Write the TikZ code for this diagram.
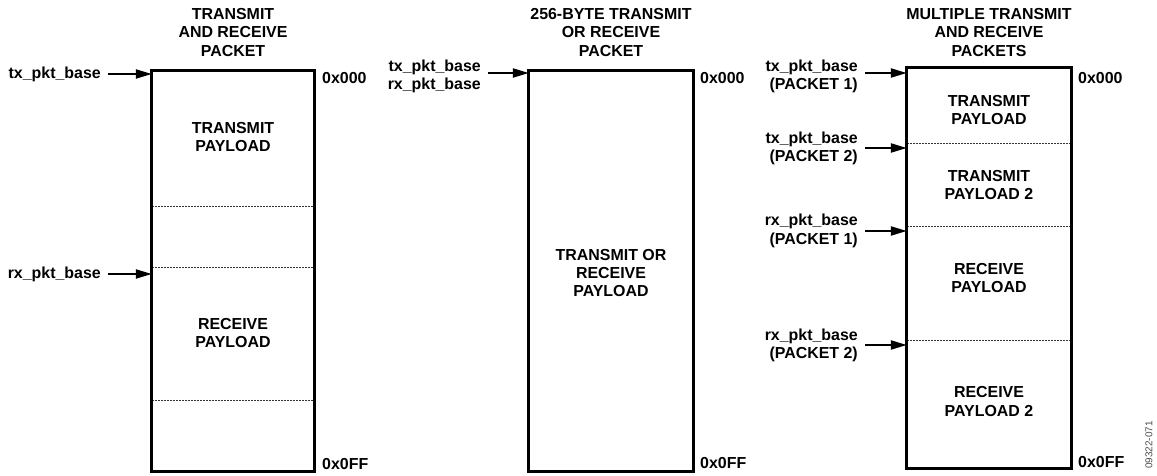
\documentclass[tikz,border=0pt]{standalone}
\usepackage{fontspec}
\setmainfont{Liberation Sans}
\usetikzlibrary{arrows.meta}
\begin{document}
\begin{tikzpicture}[x=1bp,y=-1bp,
  font=\bfseries\fontsize{16}{18.5}\selectfont,
  sec/.style={minimum width=162bp, inner sep=0, anchor=north},
  outline/.style={line width=3bp, line join=miter},
  sep/.style={line width=1.7bp, black!80, dash pattern=on 2bp off 1bp},
  arr/.style={line width=2.2bp, -{Triangle[length=16bp,width=9bp]}},
  lbl/.style={align=right, anchor=east, inner sep=0},
  ttl/.style={align=center, inner sep=0},
  txt/.style={align=center, inner sep=0},
  addr/.style={anchor=west, inner sep=0},
]
\useasboundingbox (0,0) rectangle (1157,476);

% ---------- Column 1 ----------
\node[ttl] (T1) at (233,32.5) {TRANSMIT\\AND RECEIVE\\PACKET};
\node[sec, minimum height=135bp] (s11) at (233,71) {};
\node[sec, minimum height=61bp]  (s12) at (233,206) {};
\node[sec, minimum height=133bp] (s13) at (233,267) {};
\node[sec, minimum height=71bp]  (s14) at (233,400) {};
\draw[sep] (s11.south west) -- (s11.south east);
\draw[sep] (s12.south west) -- (s12.south east);
\draw[sep] (s13.south west) -- (s13.south east);
\draw[outline] (s11.north west) rectangle (s14.south east);
\node[txt] (p11) at (233,137) {TRANSMIT\\PAYLOAD};
\node[txt] (p13) at (233,333) {RECEIVE\\PAYLOAD};
\node[lbl] (l11) at (101,74) {tx\_pkt\_base};
\node[lbl] (l12) at (101,274) {rx\_pkt\_base};
\coordinate (c11) at (108,74);
\coordinate (c12) at (108,274);
\draw[arr] (c11) -- (c11 -| s11.west);
\draw[arr] (c12) -- (c12 -| s13.west);
\node[addr] (a11) at (322,78) {0x000};
\node[addr] (a12) at (322,464) {0x0FF};

% ---------- Column 2 ----------
\node[ttl] (T2) at (611,32.5) {256-BYTE TRANSMIT\\OR RECEIVE\\PACKET};
\node[sec, minimum width=164bp, minimum height=400bp] (s21) at (611,71) {};
\draw[outline] (s21.north west) rectangle (s21.south east);
\node[txt] (p21) at (611,273) {TRANSMIT OR\\RECEIVE\\PAYLOAD};
\node[lbl] (l21) at (481,76.5) {tx\_pkt\_base\\rx\_pkt\_base};
\coordinate (c21) at (488,73);
\draw[arr] (c21) -- (c21 -| s21.west);
\node[addr] (a21) at (700,78) {0x000};
\node[addr] (a22) at (700,463) {0x0FF};

% ---------- Column 3 ----------
\node[ttl] (T3) at (989,32.5) {MULTIPLE TRANSMIT\\AND RECEIVE\\PACKETS};
\node[sec, minimum width=164bp, minimum height=75bp]  (s31) at (989,68) {};
\node[sec, minimum width=164bp, minimum height=83bp]  (s32) at (989,143) {};
\node[sec, minimum width=164bp, minimum height=114bp] (s33) at (989,226) {};
\node[sec, minimum width=164bp, minimum height=128bp] (s34) at (989,340) {};
\draw[sep] (s31.south west) -- (s31.south east);
\draw[sep] (s32.south west) -- (s32.south east);
\draw[sep] (s33.south west) -- (s33.south east);
\draw[outline] (s31.north west) rectangle (s34.south east);
\node[txt] (p31) at (989,110) {TRANSMIT\\PAYLOAD};
\node[txt] (p32) at (989,185) {TRANSMIT\\PAYLOAD 2};
\node[txt] (p33) at (989,278) {RECEIVE\\PAYLOAD};
\node[txt] (p34) at (989,401.5) {RECEIVE\\PAYLOAD 2};
\node[lbl] (l31) at (858,76.5) {tx\_pkt\_base\\(PACKET 1)};
\node[lbl] (l32) at (858,148.5) {tx\_pkt\_base\\(PACKET 2)};
\node[lbl] (l33) at (858,231) {rx\_pkt\_base\\(PACKET 1)};
\node[lbl] (l34) at (858,345.5) {rx\_pkt\_base\\(PACKET 2)};
\coordinate (c31) at (865,73);
\coordinate (c32) at (865,148);
\coordinate (c33) at (865,231);
\coordinate (c34) at (865,345);
\draw[arr] (c31) -- (c31 -| s31.west);
\draw[arr] (c32) -- (c32 -| s32.west);
\draw[arr] (c33) -- (c33 -| s33.west);
\draw[arr] (c34) -- (c34 -| s34.west);
\node[addr] (a31) at (1078,78) {0x000};
\node[addr] (a32) at (1078,462) {0x0FF};

\node[rotate=90, inner sep=0, font=\fontsize{10}{11}\selectfont, text=black!70] (fn) at (1149,445) {09322-071};
\end{tikzpicture}
\end{document}
